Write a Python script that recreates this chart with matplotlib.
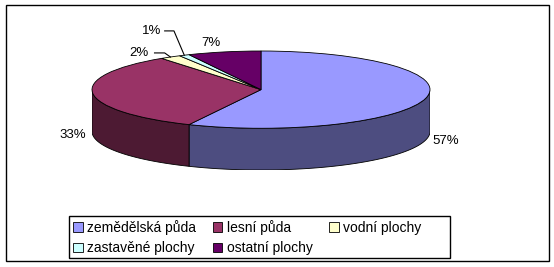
import numpy as np
import matplotlib
matplotlib.use("Agg")
import matplotlib.pyplot as plt
from matplotlib.patches import Polygon, Rectangle, Patch

categories = ["zemědělská půda", "lesní půda", "vodní plochy", "zastavěné plochy", "ostatní plochy"]
values = [57, 33, 2, 1, 7]
labels = ["57%", "33%", "2%", "1%", "7%"]
colors = ["#9999FF", "#993366", "#FFFFCC", "#CCFFFF", "#660066"]

plt.rcParams["font.family"] = ["Liberation Sans", "DejaVu Sans"]

W, H = 554, 267
fig = plt.figure(figsize=(W / 100, H / 100), dpi=100)
fig.patch.set_facecolor("white")

# outer frame
fig.add_artist(Rectangle((6 / W, 1 - 261 / H), 543 / W, 256 / H, transform=fig.transFigure,
                         fill=False, edgecolor="black", linewidth=1.0))

dep = 1.08
ax = fig.add_axes([92 / W, 1 - 170 / H, 338 / W, 119 / H])

wedges, _ = ax.pie(values, colors=colors, startangle=90, counterclock=False, radius=1,
                   wedgeprops=dict(edgecolor="black", linewidth=0.6))
for w in wedges:
    w.set_zorder(3)
ax.set_aspect("auto")
ax.set_xlim(-1, 1)
ax.set_ylim(-1 - dep, 1)
ax.axis("off")


def darker(c, f=0.5):
    r, g, b = matplotlib.colors.to_rgb(c)
    return (r * f, g * f, b * f)


# side walls
for w, c in zip(wedges, colors):
    t = np.linspace(np.radians(w.theta1), np.radians(w.theta2), 400)
    t = t[np.sin(t) <= 0]
    if len(t) < 2:
        continue
    top = np.column_stack([np.cos(t), np.sin(t)])
    bot = np.column_stack([np.cos(t[::-1]), np.sin(t[::-1]) - dep])
    ax.add_patch(Polygon(np.vstack([top, bot]), closed=True, facecolor=darker(c),
                         edgecolor="black", linewidth=0.6, zorder=2))

# labels
fs = 9.5
mids = [np.radians((w.theta1 + w.theta2) / 2) for w in wedges]
# big slices
for i in (0, 1):
    m = mids[i]
    x, y = 1.12 * np.cos(m), 1.12 * np.sin(m)
    if y < 0:
        y -= dep
    ax.text(x, y, labels[i], ha="center", va="center", fontsize=fs, clip_on=False)
# 7%
m = mids[4]
ax.text(1.3 * np.cos(m) - 0.01, 1.3 * np.sin(m) - 0.06, labels[4], ha="center", va="center",
        fontsize=fs, clip_on=False)
# 2% with leader
m = mids[2]
px, py = 1.0 * np.cos(m), 1.0 * np.sin(m)
lx, ly = -0.72, 0.95
ax.text(lx, ly, labels[2], ha="center", va="center", fontsize=fs, clip_on=False)
ax.plot([lx + 0.09, lx + 0.15, px], [ly, ly, py], color="black", linewidth=0.8, clip_on=False, zorder=4)
# 1% with leader
m = mids[3]
px, py = 1.0 * np.cos(m), 1.0 * np.sin(m)
lx, ly = -0.645, 1.52
ax.text(lx, ly, labels[3], ha="center", va="center", fontsize=fs, clip_on=False)
ax.plot([lx + 0.075, lx + 0.13, px], [ly, ly, py], color="black", linewidth=0.8, clip_on=False, zorder=4)

# legend
fig.add_artist(Rectangle((69 / W, 1 - 258 / H), 381 / W, 42 / H, transform=fig.transFigure,
                         fill=False, edgecolor="black", linewidth=1.0))
handles = [Patch(facecolor=c, edgecolor="black", linewidth=0.6) for c in colors]
order = [0, 3, 1, 4, 2]
leg = fig.legend([handles[i] for i in order], [categories[i] for i in order], ncol=3,
                 loc="upper left", bbox_to_anchor=(69 / W, 1 - 216 / H),
                 frameon=False, fontsize=10,
                 handlelength=0.7, handleheight=0.7, handletextpad=0.3,
                 borderaxespad=0, borderpad=0.3, labelspacing=0.45, columnspacing=1.2)

fig.savefig("out.png", dpi=100)
